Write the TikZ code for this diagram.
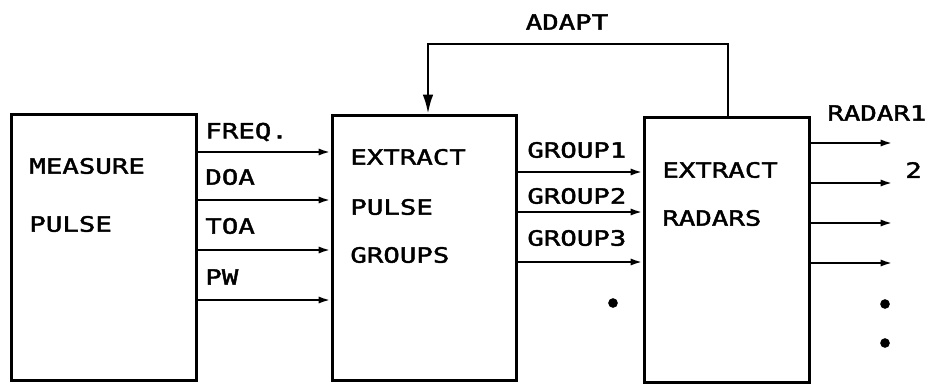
\documentclass[tikz,border=0pt]{standalone}
\usepackage{fontspec}
\newfontfamily\plotfont[FakeStretch=1.3,FakeBold=2]{DejaVu Sans Mono}
\usetikzlibrary{arrows.meta}

\begin{document}
\begin{tikzpicture}[x=0.02cm,y=-0.02cm,
  box/.style={draw,line width=1.5pt,inner sep=0pt,anchor=north west},
  lbl/.style={anchor=west,inner sep=0pt,font=\plotfont\fontsize{12}{14}\selectfont},
  sig/.style={line width=1.5pt,-{Latex[length=7pt,width=4pt]}},
  dot/.style={circle,fill,inner sep=0pt,minimum size=5.5pt}]
\path[use as bounding box] (0,0) rectangle (935,383);
\fill[white] (0,0) rectangle (935,383);
% blocks
\node[box,minimum width=3.7cm,minimum height=5.32cm] (measure) at (10,113) {};
\node[box,minimum width=3.68cm,minimum height=5.3cm] (groups) at (331,114) {};
\node[box,minimum width=3.3cm,minimum height=5.3cm] (radars) at (643,116) {};
\node[lbl] (m1) at (29,166) {MEASURE};
\node[lbl] (m2) at (29,224) {PULSE};
\node[lbl] (g1) at (350,157) {EXTRACT};
\node[lbl] (g2) at (350,207) {PULSE};
\node[lbl] (g3) at (350,255) {GROUPS};
\node[lbl] (r1) at (662,170) {EXTRACT};
\node[lbl] (r2) at (662,218) {RADARS};
% pulse parameters
\draw[sig] (measure.east |- 0,152) -- (groups.west |- 0,152);
\draw[sig] (measure.east |- 0,200) -- (groups.west |- 0,200);
\draw[sig] (measure.east |- 0,250) -- (groups.west |- 0,250);
\draw[sig] (measure.east |- 0,300) -- (groups.west |- 0,300);
\node[lbl] (freq) at (205,132) {FREQ.};
\node[lbl] (doa) at (205,177) {DOA};
\node[lbl] (toa) at (205,226) {TOA};
\node[lbl] (pw) at (205,277) {PW};
% pulse groups
\draw[sig] (groups.east |- 0,172) -- (radars.west |- 0,172);
\draw[sig] (groups.east |- 0,212) -- (radars.west |- 0,212);
\draw[sig] (groups.east |- 0,262) -- (radars.west |- 0,262);
\node[lbl] (grp1) at (527,150) {GROUP1};
\node[lbl] (grp2) at (527,196) {GROUP2};
\node[lbl] (grp3) at (527,238) {GROUP3};
\node[dot] (gdot) at (613,303) {};
% adapt loop
\coordinate (atop) at (728,44);
\draw[line width=1.5pt,-{Latex[length=11pt,width=6pt]}]
  (radars.north -| atop) -- (atop) -- (atop -| 428,0) -- (groups.north -| 428,0);
\node[font=\plotfont\fontsize{12}{14}\selectfont,inner sep=0pt] (adapt) at (567,22) {ADAPT};
% radar outputs
\foreach \y [count=\i] in {143,183,223,263} {
  \coordinate (o\i) at (893,\y);
  \draw[sig] (radars.east |- o\i) -- (o\i);
}
\node[lbl] (rad1) at (827,113) {RADAR1};
\node[lbl] (rad2) at (905,170) {2};
\node[dot] (rdot1) at (885,304) {};
\node[dot] (rdot2) at (885,343) {};
\end{tikzpicture}
\end{document}
